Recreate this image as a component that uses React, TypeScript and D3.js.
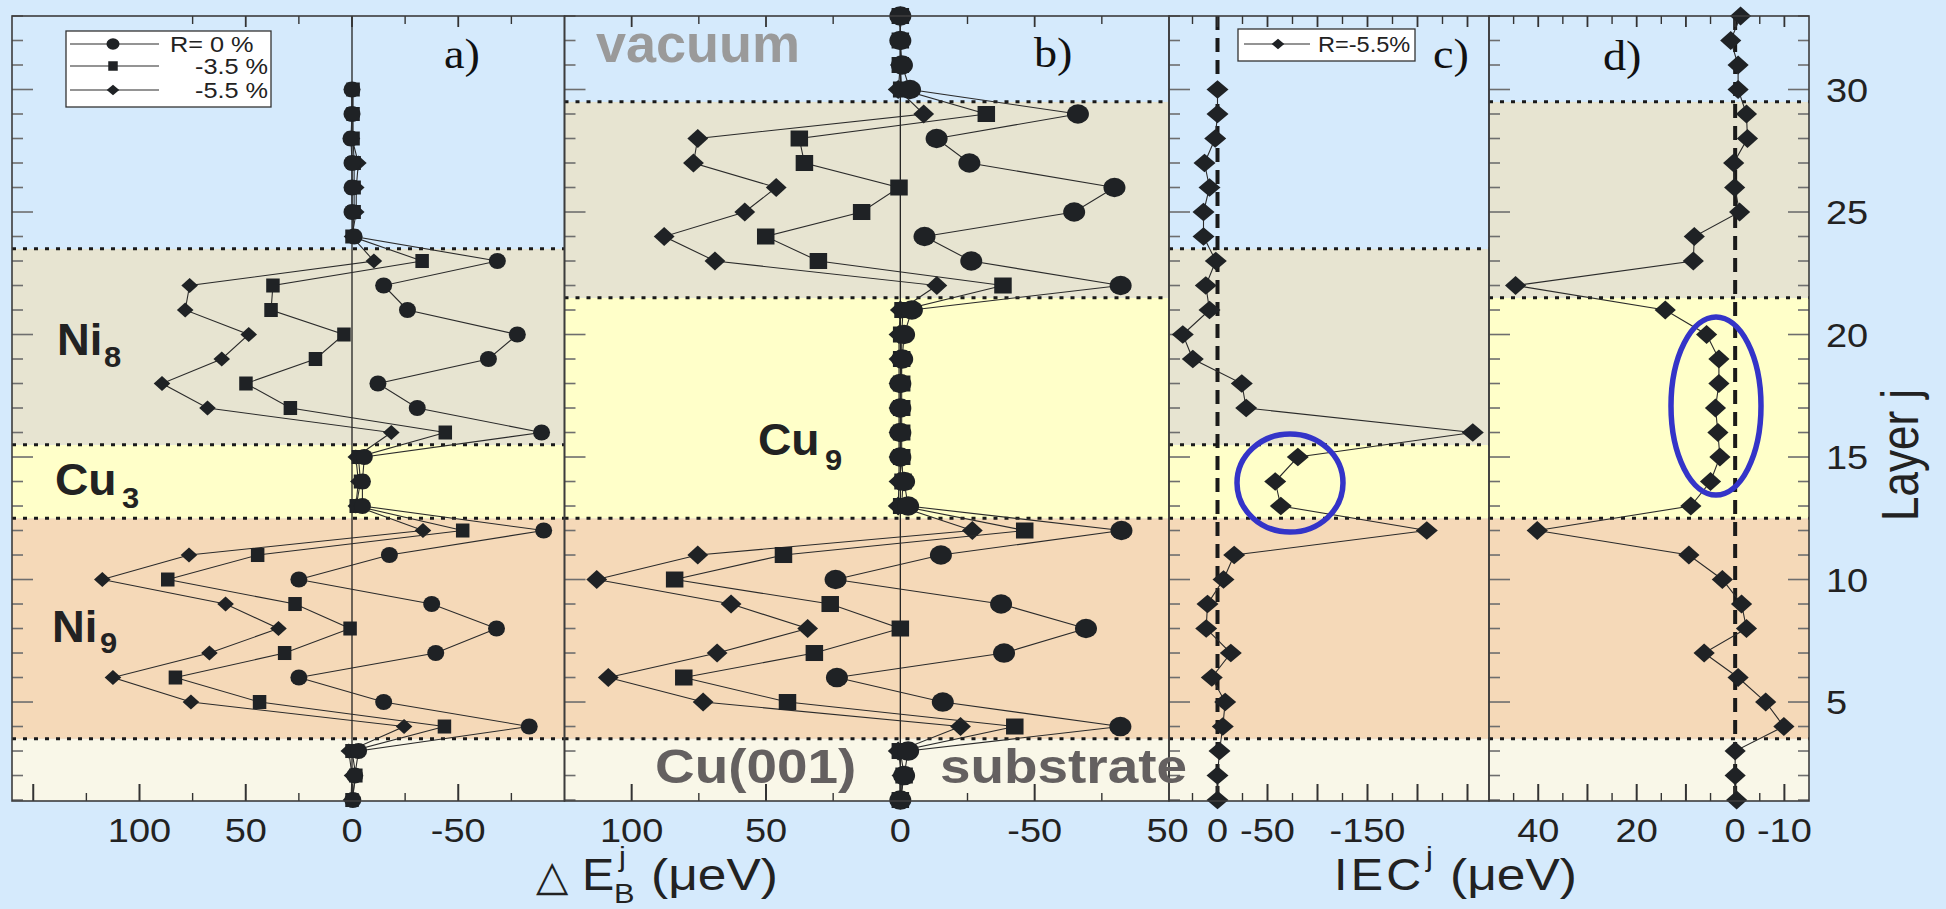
import React, { useEffect } from 'react';
import * as d3 from 'd3';

// ---------- data ----------
const layersA = [1, 2, 3, 4, 5, 6, 7, 8, 9, 10, 11, 12, 13, 14, 15, 16, 17, 18, 19, 20, 21, 22, 23, 24, 25, 26, 27, 28, 29, 30];
const layersB = [1, 2, 3, 4, 5, 6, 7, 8, 9, 10, 11, 12, 13, 14, 15, 16, 17, 18, 19, 20, 21, 22, 23, 24, 25, 26, 27, 28, 29, 30, 31, 32, 33];

// panel a: ΔE_B^j (μeV), Ni9/Cu3/Ni8
const aR0 = [-0.4, -1.3, -3.1, -83.4, -14.9, 25.0, -39.4, -68.0, -37.5, 25.0, -17.6, -90.2, -4.9, -4.9, -5.8, -89.2, -30.7, -12.2, -64.2, -77.8, -26.1, -14.9, -68.4, -1, 0, 0, 0, 0.5, 0, 0];
const aR35 = [0, -1.8, 0, -43.5, 43.5, 83.1, 31.7, 0.9, 26.8, 86.7, 44.4, -52.1, -2, -4, -3, -43.9, 29.0, 49.9, 17.2, 3.8, 38.1, 37.2, -33.0, 0, -1, -1, -1, -0.5, -0.5, -0.5];
const aR55 = [0.5, 0, 1.5, -24.5, 75.8, 112.5, 67.1, 34.6, 59.5, 117.5, 76.7, -33.4, -1.8, -3, -1.8, -18.5, 68.0, 89.4, 61.3, 48.6, 78.5, 76.4, -10.3, 0, -2, -2, -3, 0, 0, 0];

// panel b: ΔE_B^j (μeV), Ni9/Cu9/Ni8
const bR0 = [0, -1.4, -2.9, -81.9, -15.8, 23.6, -38.6, -69.1, -37.5, 24.1, -15.1, -82.3, -2.9, -1.4, 0, 0, 0, 0, -0.7, -1.4, -4.3, -82.0, -26.4, -9.0, -64.7, -79.7, -25.7, -13.5, -66.1, -3.6, -0.6, 0, 0];
const bR35 = [0, -1.4, 0, -42.6, 42.0, 80.6, 32.0, 0, 26.1, 84.0, 43.5, -46.3, -0.5, -1, -0.5, -0.5, -0.5, -0.5, -0.5, -0.5, -1, -38.2, 30.5, 50.1, 14.4, 0.5, 35.7, 37.6, -32.0, -0.5, 0, 0, 0];
const bR55 = [0, -0.6, 0.8, -22.4, 73.4, 108.7, 68.2, 34.5, 63.0, 113.0, 75.4, -26.8, 0.8, 0.5, 0.5, 0.5, 0.5, 0.5, 0.5, 0.5, 0, -13.6, 69.0, 87.9, 57.9, 46.2, 77.0, 75.4, -8.7, 0.8, 0, 0, 0];

// panel c: IEC^j (μeV), R=-5.5%, Cu3 stack
const cIEC = [0, 0, -2, -5.3, -7.7, 5.7, -13.3, 11.3, 10, -6, -16.7, -209.3, -63.3, -57.7, -80.3, -255.3, -28.7, -24.3, 24.7, 34.7, 8, 11.7, 1.7, 14, 14, 8, 13, 2.3, 0, 0];
// panel d: IEC^j (μeV), Cu9 stack
const dIEC = [-0.3, 0, 0, -9.9, -6.2, -0.6, 6.3, -2.3, -1.3, 2.6, 9.4, 40.2, 9.0, 5.0, 3.1, 3.5, 4.0, 3.3, 3.3, 5.8, 14.2, 44.6, 8.5, 8.3, -0.9, 0.1, 0.3, -2.5, -2.3, -0.6, -0.6, 0.9, -1.1];

// tick values / labels
const layerTicks = [1, 2, 3, 4, 5, 6, 7, 8, 9, 10, 11, 12, 13, 14, 15, 16, 17, 18, 19, 20, 21, 22, 23, 24, 25, 26, 27, 28, 29, 30, 31, 32, 33];
const layerLabels = [5, 10, 15, 20, 25, 30];
const ticksA = [150, 125, 100, 75, 50, 25, 0, -25, -50, -75];
const topTicksA = [75, 50, 25, 0, -25, -50, -75];
const labelsA = [100, 50, 0, -50];
const ticksB = [100, 75, 50, 25, 0, -25, -50, -75];
const labelsB = [100, 50, 0, -50];
const ticksC = [25, 0, -25, -50, -75, -100, -125, -150, -175, -200, -225, -250];
const labelsC = [50, 0, -50, -150];
const ticksD = [45, 40, 35, 30, 25, 20, 15, 10, 5, 0, -5, -10];
const labelsD = [40, 20, 0, -10];

// layer stacks (boundaries)
const boundsA = [3.5, 12.5, 15.5, 23.5];
const boundsB = [3.5, 12.5, 21.5, 29.5];

// ---------- layout / style ----------
const W = 1946, H = 909;
const TOP = 16, BOT = 801;
const SANS = "'Liberation Sans', Arial, Helvetica, sans-serif";
const SERIF = "'Liberation Serif', 'Times New Roman', serif";
const BG = '#D5EAFC', NI8 = '#E7E4D1', CU = '#FFFFC9', NI9 = '#F5D9B8', SUB = '#F9F7E8';
const MK = '#1f2225';
const LN = '#2b2b2b';

const y = d3.scaleLinear().domain([0.96, 33]).range([BOT, TOP]);
const xa = d3.scaleLinear().domain([160, -100]).range([12, 564.5]);
const xb = d3.scaleLinear().domain([125, -100]).range([564.5, 1169]);
const xc = d3.scaleLinear().domain([48.5, -271.5]).range([1169, 1489]);
const xd = d3.scaleLinear().domain([50, -15]).range([1489, 1809]);

function T({ x, y, size, sx = 1.15, anchor = 'start', weight = 'normal', fill = '#222', family = SANS, rot, ls, children }: any) {
  return (
    <text
      transform={`translate(${x},${y}) scale(${sx},1)${rot ? ` rotate(${rot})` : ''}`}
      fontSize={size}
      textAnchor={anchor}
      fontWeight={weight}
      fill={fill}
      fontFamily={family}
      letterSpacing={ls}
    >
      {children}
    </text>
  );
}

function Marker({ type, cx, cy, s }: any) {
  if (type === 'circle') return <ellipse cx={cx} cy={cy} rx={s.rx} ry={s.ry} fill={MK} />;
  if (type === 'square') return <rect x={cx - s.w / 2} y={cy - s.h / 2} width={s.w} height={s.h} fill={MK} />;
  return <path d={`M${cx - s.hw},${cy}L${cx},${cy - s.hh}L${cx + s.hw},${cy}L${cx},${cy + s.hh}Z`} fill={MK} />;
}

function Series({ xs, layers, values, type, s }: any) {
  const line = d3.line<number>().x((v) => xs(v)).y((_, i) => y(layers[i]));
  return (
    <g>
      <path d={line(values) || ''} fill="none" stroke={LN} strokeWidth={1.1} />
      {values.map((v: number, i: number) => (
        <Marker key={i} type={type} cx={xs(v)} cy={y(layers[i])} s={s} />
      ))}
    </g>
  );
}

function Bands({ xs, bounds }: any) {
  const [x0, x1] = xs.range();
  const fills = [SUB, NI9, CU, NI8, BG];
  const edges = [0.96, ...bounds, 33];
  return (
    <g>
      {fills.map((f, i) => (
        <rect key={i} x={x0} y={y(edges[i + 1])} width={x1 - x0} height={y(edges[i]) - y(edges[i + 1])} fill={f} />
      ))}
      {bounds.map((b: number, i: number) => (
        <line key={'d' + i} x1={x0} x2={x1} y1={y(b)} y2={y(b)} stroke="#1a1a1a" strokeWidth={3} strokeDasharray="4,7" />
      ))}
    </g>
  );
}

function XTicks({ xs, ticks, top, major }: any) {
  const topT = top || ticks;
  return (
    <g stroke="#333">
      {ticks.map((t: number) => {
        const m = major(t);
        return <line key={'b' + t} x1={xs(t)} x2={xs(t)} y1={BOT} y2={BOT - (m ? 17 : 8)} strokeWidth={m ? 2 : 1.4} />;
      })}
      {topT.map((t: number) => {
        const m = major(t);
        return <line key={'t' + t} x1={xs(t)} x2={xs(t)} y1={TOP} y2={TOP + (m ? 11 : 8)} strokeWidth={m ? 1.8 : 1.4} />;
      })}
    </g>
  );
}

function YTicks({ x, dir }: any) {
  return (
    <g stroke="#6e6e6e" strokeWidth={1.6}>
      {layerTicks.map((l) => (
        <line key={l} x1={x} x2={x + dir * (l % 5 === 0 ? 21 : 11)} y1={y(l)} y2={y(l)} />
      ))}
    </g>
  );
}

function XLabels({ xs, labels }: any) {
  return (
    <g>
      {labels.map((l: number) => (
        <T key={l} x={xs(l)} y={842} size={33} anchor="middle" fill="#222">
          {String(l)}
        </T>
      ))}
    </g>
  );
}

const sA = { rx: 8.5, ry: 8, w: 13.5, h: 14, hw: 8.3, hh: 7.6 };
const sB = { rx: 11, ry: 9.7, w: 17.5, h: 16, hw: 10.4, hh: 9.6 };
const sC = { hw: 11, hh: 9.2 };
const sD = { hw: 10.6, hh: 9.6 };
const sL = { rx: 6.5, ry: 5.7, w: 9.5, h: 9.5, hw: 6.3, hh: 5.3 };

export default function App() {
  useEffect(() => {
    document.body.style.margin = '0';
    document.body.style.background = BG;
    document.body.style.overflow = 'hidden';
  }, []);

  const panels = [xa, xb, xc, xd];

  return (
    <svg width={W} height={H} style={{ display: 'block', background: BG }} xmlns="http://www.w3.org/2000/svg">
      <rect x={0} y={0} width={W} height={H} fill={BG} />

      <Bands xs={xa} bounds={boundsA} />
      <Bands xs={xb} bounds={boundsB} />
      <Bands xs={xc} bounds={boundsA} />
      <Bands xs={xd} bounds={boundsB} />

      {/* zero lines */}
      <line x1={xa(0)} x2={xa(0)} y1={TOP} y2={BOT} stroke="#222" strokeWidth={1.3} />
      <line x1={xb(0)} x2={xb(0)} y1={TOP} y2={BOT} stroke="#222" strokeWidth={1.3} />
      <line x1={xc(0)} x2={xc(0)} y1={TOP} y2={BOT} stroke="#1a1a1a" strokeWidth={4} strokeDasharray="14,8" />
      <line x1={xd(0)} x2={xd(0)} y1={TOP} y2={BOT} stroke="#1a1a1a" strokeWidth={4} strokeDasharray="14,8" />

      {/* ticks */}
      <XTicks xs={xa} ticks={ticksA} top={topTicksA} major={(t: number) => t % 50 === 0} />
      <XTicks xs={xb} ticks={ticksB} major={(t: number) => t % 50 === 0} />
      <XTicks xs={xc} ticks={ticksC} major={(t: number) => t % 50 === 0} />
      <XTicks xs={xd} ticks={ticksD} major={(t: number) => t % 10 === 0} />
      <YTicks x={xa.range()[0]} dir={1} />
      <YTicks x={xb.range()[0]} dir={1} />
      <YTicks x={xc.range()[0]} dir={1} />
      <YTicks x={xd.range()[0]} dir={1} />
      <YTicks x={xd.range()[1]} dir={-1} />

      {/* data */}
      <Series xs={xa} layers={layersA} values={aR55} type="diamond" s={sA} />
      <Series xs={xa} layers={layersA} values={aR35} type="square" s={sA} />
      <Series xs={xa} layers={layersA} values={aR0} type="circle" s={sA} />
      <Series xs={xb} layers={layersB} values={bR55} type="diamond" s={sB} />
      <Series xs={xb} layers={layersB} values={bR35} type="square" s={sB} />
      <Series xs={xb} layers={layersB} values={bR0} type="circle" s={sB} />
      <Series xs={xc} layers={layersA} values={cIEC} type="diamond" s={sC} />
      <Series xs={xd} layers={layersB} values={dIEC} type="diamond" s={sD} />

      {/* panel frames */}
      {panels.map((p, i) => (
        <rect key={i} x={p.range()[0]} y={TOP} width={p.range()[1] - p.range()[0]} height={BOT - TOP} fill="none" stroke="#3c3c3c" strokeWidth={1.6} />
      ))}

      {/* layer region labels */}
      <T x={57} y={355} size={44} sx={1.03} weight="bold">Ni</T>
      <T x={104} y={367} size={30} sx={1.03} weight="bold">8</T>
      <T x={55} y={495} size={44} sx={1.05} weight="bold">Cu</T>
      <T x={122} y={508} size={30} sx={1.03} weight="bold">3</T>
      <T x={52} y={642} size={44} sx={1.03} weight="bold">Ni</T>
      <T x={100} y={653} size={30} sx={1.03} weight="bold">9</T>
      <T x={758} y={455} size={44} sx={1.05} weight="bold">Cu</T>
      <T x={825} y={470} size={30} sx={1.03} weight="bold">9</T>
      <T x={596} y={62} size={54} sx={1.0} weight="bold" fill="#9a9a9a">vacuum</T>
      <T x={655} y={783} size={49} sx={1.12} weight="bold" fill="#646060">Cu(001)</T>
      <T x={940} y={783} size={49} sx={1.12} weight="bold" fill="#646060">substrate</T>

      {/* panel letters */}
      <T x={444} y={68} size={42} sx={1.1} family={SERIF} fill="#111">a)</T>
      <T x={1034} y={67} size={42} sx={1.1} family={SERIF} fill="#111">b)</T>
      <T x={1433} y={68} size={42} sx={1.1} family={SERIF} fill="#111">c)</T>
      <T x={1603} y={70} size={42} sx={1.1} family={SERIF} fill="#111">d)</T>

      {/* legend a */}
      <rect x={66} y={31} width={205} height={76} fill="#fff" stroke="#333" strokeWidth={1.3} />
      {[
        { t: 'circle', label: 'R= 0 %', lx: 170, ly: 44 },
        { t: 'square', label: '-3.5 %', lx: 195, ly: 66 },
        { t: 'diamond', label: '-5.5 %', lx: 195, ly: 90 },
      ].map((r) => (
        <g key={r.t}>
          <line x1={70} x2={159} y1={r.ly} y2={r.ly} stroke={LN} strokeWidth={1.1} />
          <Marker type={r.t} cx={113} cy={r.ly} s={sL} />
          <T x={r.lx} y={r.ly + 8} size={22} sx={1.15}>{r.label}</T>
        </g>
      ))}

      {/* legend c */}
      <rect x={1238} y={29} width={177} height={32} fill="#fff" stroke="#333" strokeWidth={1.3} />
      <line x1={1244} x2={1310} y1={44} y2={44} stroke={LN} strokeWidth={1.1} />
      <Marker type="diamond" cx={1278} cy={44} s={sL} />
      <T x={1318} y={52} size={22} sx={1.07}>R=-5.5%</T>

      {/* x tick labels */}
      <XLabels xs={xa} labels={labelsA} />
      <XLabels xs={xb} labels={labelsB} />
      <XLabels xs={xc} labels={labelsC} />
      <XLabels xs={xd} labels={labelsD} />

      {/* right y labels */}
      {layerLabels.map((l) => (
        <T key={l} x={1826} y={y(l) + 12} size={33} sx={1.15}>{String(l)}</T>
      ))}
      <T x={1918} y={455} size={44} sx={1.17} rot={-90} anchor="middle">Layer j</T>

      {/* x axis titles */}
      <T x={536} y={890} size={42} sx={1.0} family="'DejaVu Sans', sans-serif" fill="#222">△</T>
      <T x={582} y={890} size={44} sx={1.1}>E</T>
      <T x={614} y={903} size={28} sx={1.1}>B</T>
      <T x={619} y={866} size={28} sx={1.1}>j</T>
      <T x={651} y={890} size={44} sx={1.17}>(μeV)</T>

      <T x={1334} y={890} size={44} sx={1.1} ls={3}>IEC</T>
      <T x={1426} y={866} size={28} sx={1.1}>j</T>
      <T x={1450} y={890} size={44} sx={1.17}>(μeV)</T>

      {/* highlight ellipses */}
      <ellipse cx={1290} cy={483} rx={53} ry={49} fill="none" stroke="#3434C8" strokeWidth={5.5} />
      <ellipse cx={1716} cy={406} rx={45} ry={89} fill="none" stroke="#3434C8" strokeWidth={5.5} />
    </svg>
  );
}
